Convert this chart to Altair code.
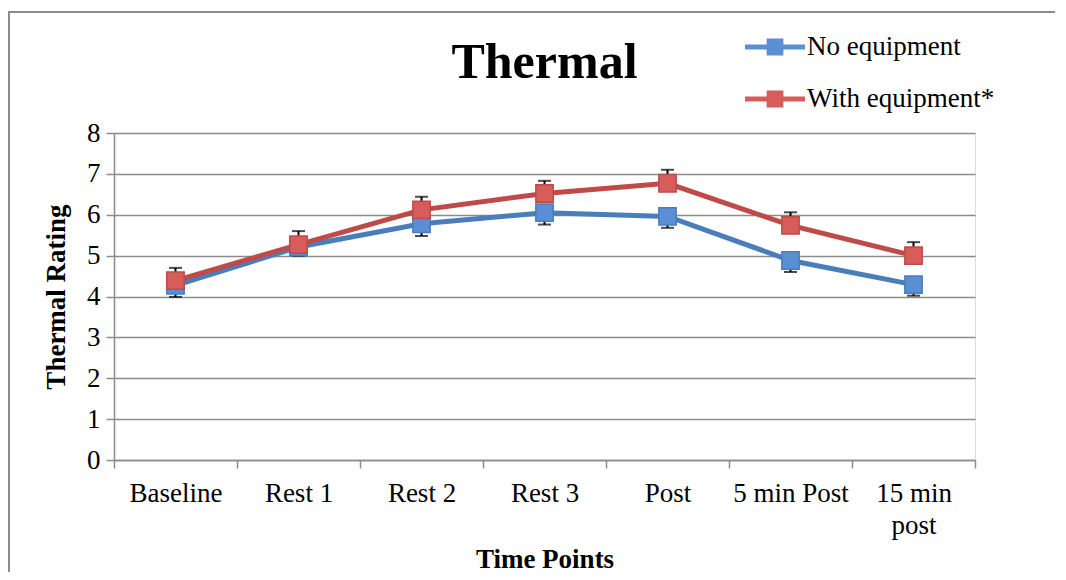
import altair as alt
import pandas as pd

categories = ["Baseline", "Rest 1", "Rest 2", "Rest 3", "Post", "5 min Post", "15 min post"]
series_names = ["No equipment", "With equipment*"]
no_equipment = [4.27, 5.21, 5.78, 6.05, 5.96, 4.88, 4.29]
with_equipment = [4.39, 5.27, 6.12, 6.52, 6.77, 5.74, 5.00]
no_equipment_err = [0.28, 0.22, 0.30, 0.29, 0.28, 0.28, 0.27]
with_equipment_err = [0.31, 0.33, 0.32, 0.31, 0.33, 0.32, 0.33]
y_ticks = [0, 1, 2, 3, 4, 5, 6, 7, 8]

line_colors = ["#4a7ebb", "#be4b48"]
marker_colors = ["#5a8fd6", "#d75d5a"]

rows = []
for i, c in enumerate(categories):
    rows.append(dict(cat=c, series=series_names[0], series_s=series_names[0],
                     value=no_equipment[i], end=no_equipment[i] - no_equipment_err[i], order=0))
for i, c in enumerate(categories):
    rows.append(dict(cat=c, series=series_names[1], series_s=series_names[1],
                     value=with_equipment[i], end=with_equipment[i] + with_equipment_err[i], order=1))
df = pd.DataFrame(rows)

FONT = "Liberation Serif"
GRAY = "#8c8c8c"
LEGEND_PATH = "M-1,-0.085L-0.28,-0.085L-0.28,-0.28L0.28,-0.28L0.28,-0.085L1,-0.085L1,0.085L0.28,0.085L0.28,0.28L-0.28,0.28L-0.28,0.085L-1,0.085Z"

x_enc = alt.X(
    "cat:N", sort=categories,
    scale=alt.Scale(type="band", paddingInner=0, paddingOuter=0),
    axis=alt.Axis(
        title="Time Points", tickBand="extent", labelAngle=0, grid=False,
        labelExpr="datum.value == '15 min post' ? ['15 min', 'post'] : datum.label",
        labelFont=FONT, labelFontSize=27, labelColor="black", labelPadding=12,
        labelLineHeight=32, labelOverlap=False, labelFlush=False, labelBaseline="top",
        domainColor=GRAY, domainWidth=1.5, tickColor=GRAY, tickWidth=1.5, tickSize=8,
        titleFont=FONT, titleFontSize=27, titleFontWeight="bold", titleColor="black",
        titlePadding=8,
    ),
)
y_scale = alt.Scale(domain=[0, 8], nice=False, zero=True)
y_enc = alt.Y(
    "value:Q", scale=y_scale,
    axis=alt.Axis(
        values=y_ticks, title="Thermal Rating", grid=True, gridColor=GRAY, gridWidth=1.5,
        domainColor=GRAY, domainWidth=1.5, tickColor=GRAY, tickWidth=1.5, tickSize=8,
        labelFont=FONT, labelFontSize=27, labelColor="black", labelPadding=6,
        titleFont=FONT, titleFontSize=27, titleFontWeight="bold", titleColor="black",
        titlePadding=16,
    ),
)

base = alt.Chart(df)

border = alt.Chart(pd.DataFrame({"a": [0]})).mark_rect(
    fill="white", fillOpacity=0, stroke=GRAY, strokeWidth=2
).encode(x=alt.value(-105), x2=alt.value(1100), y=alt.value(-121), y2=alt.value(700))

rules = base.mark_rule(color="black", strokeWidth=2).encode(
    x=x_enc, y=y_enc, y2="end:Q"
)
caps = base.mark_tick(color="black", thickness=2, size=13).encode(
    x=x_enc, y=alt.Y("end:Q", scale=y_scale)
)
stroke_scale = alt.Scale(range=line_colors)
lines = base.mark_line(strokeWidth=5).encode(
    x=x_enc, y=y_enc,
    stroke=alt.Stroke("series_s:N", scale=stroke_scale, legend=None),
    detail="series:N",
)
points = base.mark_point(shape="square", filled=True, size=300, opacity=1,
                         strokeWidth=1.5).encode(
    x=x_enc, y=y_enc,
    fill=alt.Fill("series:N", scale=alt.Scale(domain=series_names, range=marker_colors),
                  legend=alt.Legend(
                      orient="none", legendX=631, legendY=-116, title=None,
                      symbolType=LEGEND_PATH, symbolSize=3600, symbolStrokeWidth=0,
                      symbolOpacity=1, labelFont=FONT, labelFontSize=27,
                      labelColor="black", labelOffset=2, rowPadding=9,
                      labelLimit=400)),
    stroke=alt.Stroke("series_s:N", scale=stroke_scale, legend=None),
    order="order:Q",
)

chart = alt.layer(border, rules, caps, lines, points).properties(
    width=861, height=327,
    title=alt.TitleParams("Thermal", font=FONT, fontSize=50, fontWeight="bold",
                          color="black", anchor="middle", offset=0, baseline="alphabetic",
                          dy=117),
    autosize=alt.AutoSizeParams(type="none"),
    padding={"left": 106, "top": 125, "right": 80, "bottom": 112},
).configure_view(strokeWidth=0).configure(background="white")

chart.save("out.html", embed_options={"renderer": "svg", "actions": False})
